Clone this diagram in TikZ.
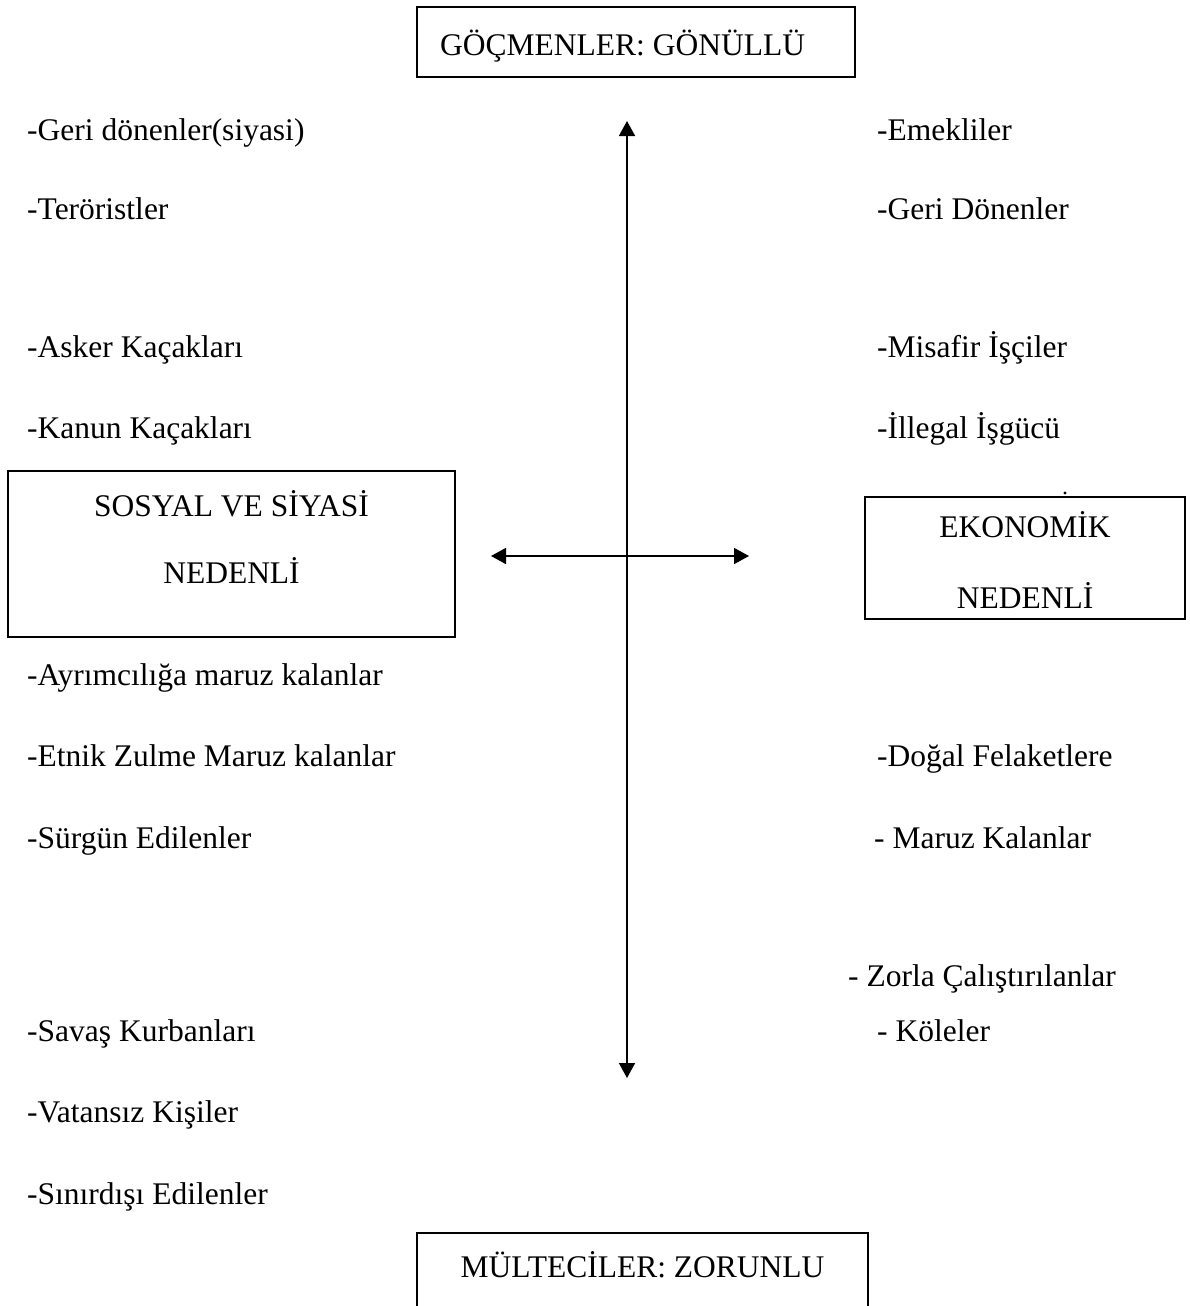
\documentclass[tikz,border=0pt]{standalone}
\usepackage{fontspec}
\setmainfont{Liberation Serif}
\usetikzlibrary{arrows.meta}
\begin{document}
\begin{tikzpicture}[x=1pt,y=-1pt,
    every node/.style={font=\fontsize{31.5}{38}\selectfont},
    box/.style={draw,line width=1.6pt,inner sep=0pt},
    item/.style={anchor=base west,inner sep=0pt},
    boxtext/.style={anchor=base,inner sep=0pt},
    twoway/.style={line width=1.6pt,{Triangle[width=16pt,length=15pt]}-{Triangle[width=16pt,length=15pt]}}]
    \useasboundingbox (0,0) rectangle (1190,1306);
    % kutular
    \node[box,minimum width=438,minimum height=70] (gonullu) at (636,42) {};
    \node[item] (gonulluT) at (440,56) {GÖÇMENLER: GÖNÜLLÜ};
    \node[box,minimum width=447,minimum height=166] (sosyal) at (231.5,554) {};
    \node[boxtext] (sosyalA) at (231.5,516) {SOSYAL VE SİYASİ};
    \node[boxtext] (sosyalB) at (231.5,583) {NEDENLİ};
    \node[box,minimum width=320,minimum height=122] (ekonomik) at (1025,558) {};
    \node[boxtext] (ekonomikA) at (1025,537) {EKONOMİK};
    \node[boxtext] (ekonomikB) at (1025,608) {NEDENLİ};
    \fill (1065,493) circle (1.6);
    \draw[line width=1.6pt] (417,1312) |- (868,1233) -- (868,1312);
    \node[boxtext] (zorunlu) at (642.5,1277) {MÜLTECİLER: ZORUNLU};
    % oklar
    \coordinate (up) at (627,121);
    \coordinate (down) at (627,1078);
    \coordinate (west) at (491,556);
    \coordinate (east) at (749,556);
    \draw[twoway] (down) -- (up);
    \draw[twoway] (west) -- (east);
    % sol liste
    \node[item] (l1) at (27,140) {-Geri dönenler(siyasi)};
    \node[item] (l2) at (27,219) {-Teröristler};
    \node[item] (l3) at (27,357) {-Asker Kaçakları};
    \node[item] (l4) at (27,438) {-Kanun Kaçakları};
    \node[item] (l5) at (27,685) {-Ayrımcılığa maruz kalanlar};
    \node[item] (l6) at (27,766) {-Etnik Zulme Maruz kalanlar};
    \node[item] (l7) at (27,848) {-Sürgün Edilenler};
    \node[item] (l8) at (27,1041) {-Savaş Kurbanları};
    \node[item] (l9) at (27,1122) {-Vatansız Kişiler};
    \node[item] (l10) at (27,1204) {-Sınırdışı Edilenler};
    % sag liste
    \node[item] (r1) at (877,140) {-Emekliler};
    \node[item] (r2) at (877,219) {-Geri Dönenler};
    \node[item] (r3) at (877,357) {-Misafir İşçiler};
    \node[item] (r4) at (877,438) {-İllegal İşgücü};
    \node[item] (r5) at (877,766) {-Doğal Felaketlere};
    \node[item] (r6) at (874,848) {- Maruz Kalanlar};
    \node[item] (r7) at (848,986) {- Zorla Çalıştırılanlar};
    \node[item] (r8) at (877,1041) {- Köleler};
\end{tikzpicture}
\end{document}
